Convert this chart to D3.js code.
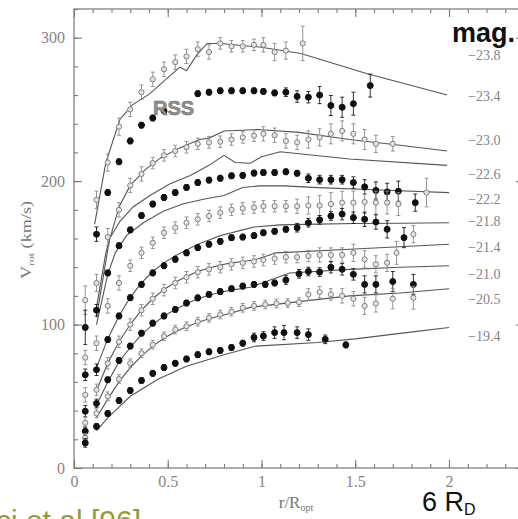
<!DOCTYPE html>
<html>
<head>
<meta charset="utf-8">
<script src="https://cdn.jsdelivr.net/npm/d3@7/dist/d3.min.js"></script>
<style>
  html, body { margin: 0; padding: 0; background: #fff; }
  svg { display: block; }
  .axis text { font-family: "Liberation Serif", serif; font-size: 16px; fill: #858585; }
  .axis line { stroke: #7a7a7a; stroke-width: 1.1; }
  .axis path { display: none; }
</style>
</head>
<body>
<div id="chart"></div>
<script>
// --- tick labels / bin labels ---
const xMajor = [0, 0.5, 1, 1.5, 2];
const yMajor = [0, 100, 200, 300];
const magLabels = ["\u221223.8", "\u221223.4", "\u221223.0", "\u221222.6", "\u221222.2",
                   "\u221221.8", "\u221221.4", "\u221221.0", "\u221220.5", "\u221219.4"];
const magLabelV = [288, 259, 228.5, 205, 187.5, 172, 154, 135.5, 118, 92];

// --- synthetic rotation curves: [r/Ropt, Vrot, error] ---
const bin238 = [[0.06,117,10],[0.12,187,6],[0.18,213,6],[0.24,238,6],[0.30,250,5],[0.36,262,5],[0.42,271,5],
  [0.48,278,5],[0.54,283,5],[0.60,287,5],[0.66,292,5],[0.72,290,5],[0.78,296,4],[0.84,294,4],[0.90,294,4],
  [0.96,295,4],[1.01,295,5],[1.07,290,6],[1.13,291,6],[1.22,296,12]];
const bin234 = [[0.06,98,12],[0.12,163,5],[0.18,192,2],[0.24,213.5,2],[0.30,228,2],[0.36,239,2],[0.42,244,2],
  [0.48,249,2],[0.66,261,2],[0.72,262,2],[0.78,263,2],[0.84,263,2],[0.90,263,2],[0.96,263,2],[1.01,262.5,2],
  [1.07,261.5,2],[1.13,262,3],[1.19,259,4],[1.25,258.5,4],[1.31,260,6],[1.37,252.7,7],[1.43,251.5,7],
  [1.49,254,8],[1.58,266.6,8]];
const bin230 = [[0.06,77,5],[0.12,129,6],[0.18,161,6],[0.24,180,5],[0.30,197,5],[0.36,205,5],[0.42,212.6,4],
  [0.48,218,4],[0.54,221,4],[0.60,223.6,4],[0.66,226,4],[0.72,227,4],[0.78,227.5,4],[0.84,229,4],[0.90,230.5,4],
  [0.96,231.7,4],[1.01,233,5],[1.07,232,5],[1.13,228,5],[1.19,227,5],[1.25,229,6],[1.31,230.5,6],[1.37,233,7],
  [1.43,235,7],[1.49,233,7],[1.55,229,7],[1.61,226,6],[1.70,226,5]];
const bin226 = [[0.06,65,4],[0.12,110,4],[0.18,136,2],[0.24,155,2],[0.30,166,2],[0.36,176,2],[0.42,184,2],
  [0.48,188.6,2],[0.54,192,2],[0.60,195.6,2],[0.66,199,2],[0.72,200.7,2],[0.78,202,2],[0.84,203.7,2],[0.90,204,2],
  [0.96,205.6,2],[1.01,206,2],[1.07,206,2],[1.13,206.5,2],[1.19,205.5,2],[1.25,202,3],[1.31,201,3],[1.37,201,3],
  [1.43,201,3],[1.49,199,4],[1.55,196,5],[1.61,193.5,6],[1.67,192.5,6],[1.73,193,7],[1.82,185,6]];
const bin222 = [[0.06,51,5],[0.12,87,5],[0.18,113,5],[0.24,129,5],[0.30,141,4],[0.36,150,4],[0.42,157,4],
  [0.48,164,4],[0.54,167.6,4],[0.60,171,4],[0.66,173.4,4],[0.72,175.7,4],[0.78,178,4],[0.84,180,4],[0.90,181,4],
  [0.96,181.6,4],[1.01,182.5,4],[1.07,182.5,4],[1.13,182.5,4],[1.19,182.5,5],[1.25,183,6],[1.31,183,7],
  [1.37,184,8],[1.43,185,8],[1.49,185,8],[1.55,185.5,8],[1.61,185,8],[1.67,185,8],[1.73,184,8],[1.88,192,10]];
const bin218 = [[0.06,39.6,4],[0.12,68.5,4],[0.18,89.5,2],[0.24,106,2],[0.30,118.7,2],[0.36,128,2],[0.42,136,2],
  [0.48,141,2],[0.54,145.5,2],[0.60,150,2],[0.66,153.6,2],[0.72,156,2],[0.78,158,2],[0.84,160.6,2],[0.90,161,2],
  [0.96,162,2],[1.01,164,2],[1.07,165,2],[1.13,166.4,2],[1.19,167.5,3],[1.25,171,3],[1.31,173,3],[1.37,175.7,3],
  [1.43,177,4],[1.49,174.5,4],[1.55,173.4,5],[1.61,171.5,5],[1.67,166.4,6],[1.76,160.6,7]];
const bin214 = [[0.06,31.5,4],[0.12,54.5,4],[0.18,73,4],[0.24,88,4],[0.30,100,4],[0.36,110,4],[0.42,118,4],
  [0.48,124,4],[0.54,129,4],[0.60,133,4],[0.66,136.5,4],[0.72,138.5,4],[0.78,140,4],[0.84,142,4],[0.90,143,4],
  [0.96,144,4],[1.01,145,4],[1.07,146,4],[1.13,147,4],[1.19,147,4],[1.25,147.8,4],[1.31,148.5,5],[1.37,148.5,5],
  [1.43,148.5,5],[1.49,150,6],[1.55,145.5,6],[1.61,142,6],[1.67,143,6],[1.72,150,8],[1.81,163,6]];
const bin210 = [[0.06,25.6,3],[0.12,45,3],[0.18,61.5,2],[0.24,75,2],[0.30,85,2],[0.36,94,2],[0.42,101,2],
  [0.48,106,2],[0.54,110.5,2],[0.60,115,2],[0.66,118.6,2],[0.72,121,2],[0.78,123,2],[0.84,125,2],[0.90,126.8,2],
  [0.96,128,2],[1.02,128,2],[1.07,129,2],[1.13,131,3],[1.20,135.4,3],[1.25,137,3],[1.31,136.6,3],[1.37,140,4],
  [1.43,138.5,4],[1.49,135,4],[1.55,128,6],[1.61,128,6],[1.70,130,7],[1.81,128,7]];
const bin205 = [[0.06,21,3],[0.12,38,3],[0.18,50,3],[0.24,62,3],[0.30,73,3],[0.36,80,3],[0.42,86,3],
  [0.48,91.8,3],[0.54,96.5,3],[0.60,98.8,3],[0.66,102,3],[0.72,104.7,3],[0.78,107,3],[0.84,109,3],[0.90,111.7,3],
  [0.96,113,3],[1.02,114,3],[1.08,114.7,3],[1.14,115,3],[1.20,115.6,3],[1.25,121,4],[1.31,122.6,4],[1.37,121,4],
  [1.43,120,5],[1.49,118,5],[1.55,113,6],[1.61,114.7,6],[1.70,118,7],[1.81,118.7,8]];
const bin194 = [[0.06,17.5,3],[0.12,29,2],[0.18,38,2],[0.24,47,2],[0.30,54,2],[0.36,61,2],[0.42,66,2],
  [0.48,70,2],[0.54,73,2],[0.60,76,2],[0.66,79,2],[0.72,81,2],[0.78,82,2],[0.84,84,2],[0.90,87,2],[0.96,91,3],
  [1.01,92,3],[1.07,94.4,4],[1.12,94.4,5],[1.19,94.4,4],[1.25,93,4],[1.34,89.7,3],[1.45,85.8,2]];

// --- model (URC) curves: [r/Ropt, Vrot] ---
const curve1 = [[0.11,170],[0.17,213],[0.245,243],[0.31,253],[0.405,261],[0.49,271],[0.565,279.5],[0.60,277],
  [0.655,288],[0.71,296],[0.78,296],[0.99,293.5],[1.21,289],[1.56,275],[1.99,260]];
const curve2 = [[0.12,112],[0.17,150],[0.24,182],[0.30,197],[0.38,208],[0.46,216],[0.56,223],[0.67,229],
  [0.72,230],[0.80,235],[0.90,235.5],[0.98,236],[1.2,234],[1.47,229],[1.74,225],[1.99,221]];
const curve3 = [[0.12,105],[0.19,160],[0.245,172],[0.315,182],[0.405,190],[0.51,198],[0.62,204],[0.72,211],
  [0.80,218],[0.86,213],[0.94,212.5],[1.0,217],[1.1,220.5],[1.47,215.4],[1.99,211]];
const curve4 = [[0.12,100],[0.18,135],[0.22,150],[0.28,162],[0.37,171],[0.476,179],[0.58,184],[0.69,187.4],
  [0.80,190],[0.90,195.6],[0.99,196.7],[1.12,196.7],[1.3,195.5],[1.6,194],[2.0,192]];
const curve5 = [[0.12,70],[0.18,90],[0.24,106],[0.30,119],[0.36,129],[0.42,137],[0.48,143],[0.54,148],
  [0.60,152],[0.66,156],[0.72,159],[0.78,162],[0.84,164],[0.90,166],[0.96,168],[1.1,169.5],[1.3,170],
  [1.5,170.5],[1.75,170.6],[2.0,171]];
const curve6 = [[0.12,54],[0.18,73],[0.24,88],[0.30,100],[0.36,110],[0.42,118],[0.48,124.5],[0.54,129.5],
  [0.60,133.5],[0.66,137],[0.72,139.5],[0.78,141.5],[0.84,143],[0.90,144],[0.96,145],[1.08,150],[1.47,152.5],
  [2.0,156]];
const curve7 = [[0.12,44],[0.18,60],[0.24,74],[0.30,84],[0.36,93],[0.42,100],[0.48,106],[0.54,110.5],
  [0.60,114.5],[0.66,118],[0.72,120.5],[0.78,122.5],[0.84,124],[0.94,126],[1.15,136],[1.47,138.5],[1.74,140],
  [2.0,141]];
const curve8 = [[0.12,35],[0.18,48],[0.24,60],[0.30,70],[0.36,78],[0.42,85],[0.48,90.5],[0.54,95],[0.60,98.5],
  [0.66,101.5],[0.72,104],[0.78,106],[0.84,108],[0.94,112],[1.2,116],[1.47,120],[1.74,122],[2.0,125]];
const curve9 = [[0.12,26],[0.18,35],[0.30,50],[0.45,62],[0.60,71],[0.80,79],[0.97,85],[1.3,87.5],[1.5,90],
  [1.75,94],[2.0,98]];

const curves = [curve1, curve2, curve3, curve4, curve5, curve6, curve7, curve8, curve9];
const bins = [
  { pts: bin238, open: true }, { pts: bin234, open: false },
  { pts: bin230, open: true }, { pts: bin226, open: false },
  { pts: bin222, open: true }, { pts: bin218, open: false },
  { pts: bin214, open: true }, { pts: bin210, open: false },
  { pts: bin205, open: true }, { pts: bin194, open: false }
];

// --- plot setup ---
const W = 518, H = 519;
const x = d3.scaleLinear().domain([0, 2.4]).range([74, 524]);
const y = d3.scaleLinear().domain([0, 320]).range([468, 9]);

const svg = d3.select("#chart").append("svg")
  .attr("width", W)
  .attr("height", H);

svg.append("rect").attr("width", W).attr("height", H).attr("fill", "#fff");

// frame
svg.append("rect")
  .attr("x", x(0)).attr("y", y(320))
  .attr("width", x(2.4) - x(0)).attr("height", y(0) - y(320))
  .attr("fill", "none").attr("stroke", "#777").attr("stroke-width", 1.2);

const xMinor = d3.range(0, 24.5, 1).map(d => d / 10);
const yMinor = d3.range(0, 321, 20);

// ticks point inward on all four sides
const axes = [
  { gen: d3.axisBottom(x), at: `translate(0,${y(0)})`, minor: xMinor, major: xMajor, labels: true },
  { gen: d3.axisTop(x), at: `translate(0,${y(320)})`, minor: xMinor, major: xMajor, labels: false },
  { gen: d3.axisLeft(y), at: `translate(${x(0)},0)`, minor: yMinor, major: yMajor, labels: true },
  { gen: d3.axisRight(y), at: `translate(${x(2.4)},0)`, minor: yMinor, major: yMajor, labels: false }
];

axes.forEach(a => {
  svg.append("g").attr("class", "axis").attr("transform", a.at)
    .call(a.gen.tickValues(a.minor).tickSize(-4).tickFormat(""));
  svg.append("g").attr("class", "axis").attr("transform", a.at)
    .call(a.gen.tickValues(a.major).tickSize(-8).tickPadding(a === axes[2] ? 9 : 8)
      .tickFormat(a.labels ? d3.format("") : ""));
});

// --- model curves ---
const line = d3.line().x(d => x(d[0])).y(d => y(d[1]));

svg.append("g").selectAll("path")
  .data(curves)
  .enter().append("path")
  .attr("d", line)
  .attr("fill", "none")
  .attr("stroke", "#555")
  .attr("stroke-width", 1.1);

// --- data points with error bars ---
bins.forEach(b => {
  const g = svg.append("g");
  const col = b.open ? "#8a8a8a" : "#1a1a1a";

  const eb = g.selectAll(".eb").data(b.pts).enter().append("g").attr("class", "eb");
  eb.append("line")
    .attr("x1", d => x(d[0])).attr("x2", d => x(d[0]))
    .attr("y1", d => y(d[1] - d[2])).attr("y2", d => y(d[1] + d[2]))
    .attr("stroke", col).attr("stroke-width", 0.9);
  [-1, 1].forEach(s => {
    eb.append("line")
      .attr("x1", d => x(d[0]) - 2).attr("x2", d => x(d[0]) + 2)
      .attr("y1", d => y(d[1] + s * d[2])).attr("y2", d => y(d[1] + s * d[2]))
      .attr("stroke", col).attr("stroke-width", 0.9);
  });

  g.selectAll("circle").data(b.pts).enter().append("circle")
    .attr("cx", d => x(d[0]))
    .attr("cy", d => y(d[1]))
    .attr("r", b.open ? 2.6 : 3)
    .attr("fill", b.open ? "#e4e4e4" : "#111")
    .attr("stroke", b.open ? "#808080" : "#111")
    .attr("stroke-width", 1);
});

// --- magnitude labels on the right ---
svg.append("g").selectAll("text")
  .data(magLabels)
  .enter().append("text")
  .attr("x", 468)
  .attr("y", (d, i) => y(magLabelV[i]))
  .attr("dy", "0.35em")
  .style("font-family", "'Liberation Serif', serif")
  .style("font-size", "14px")
  .style("fill", "#858585")
  .text(d => d);

svg.append("text")
  .attr("x", 452).attr("y", 42)
  .style("font-family", "'Liberation Sans', Arial, sans-serif")
  .style("font-weight", "bold").style("font-size", "27px").style("fill", "#111")
  .text("mag.");

svg.append("text")
  .attr("x", 153).attr("y", 115)
  .style("font-family", "'Liberation Sans', Arial, sans-serif")
  .style("font-weight", "bold").style("font-size", "20px")
  .style("fill", "#909090").style("stroke", "#6a6a6a").style("stroke-width", 0.5)
  .text("RSS");

// axis titles
const yt = svg.append("text")
  .attr("transform", "translate(31,240) rotate(-90) scale(1.3,1)")
  .attr("text-anchor", "middle")
  .style("font-family", "'Liberation Serif', serif")
  .style("font-size", "14px").style("fill", "#777");
yt.append("tspan").text("V");
yt.append("tspan").attr("dy", 3).style("font-size", "9px").text("rot");
yt.append("tspan").attr("dy", -3).text(" (km/s)");

const xt = svg.append("text")
  .attr("x", 296).attr("y", 508)
  .attr("text-anchor", "middle")
  .style("font-family", "'Liberation Serif', serif")
  .style("font-size", "17px").style("fill", "#777");
xt.append("tspan").text("r/R");
xt.append("tspan").attr("dy", 3).style("font-size", "10px").text("opt");

const rd = svg.append("text")
  .attr("x", 422).attr("y", 511)
  .style("font-family", "'Liberation Sans', Arial, sans-serif")
  .style("font-size", "27px").style("fill", "#111");
rd.append("tspan").text("6 R");
rd.append("tspan").attr("dy", 4).style("font-size", "16px").text("D");

svg.append("text")
  .attr("x", 141).attr("y", 531)
  .attr("text-anchor", "end")
  .style("font-family", "'Liberation Sans', Arial, sans-serif")
  .style("font-size", "30px").style("fill", "#8f9c3c")
  .text("Salucci et al [96]");
</script>
</body>
</html>
